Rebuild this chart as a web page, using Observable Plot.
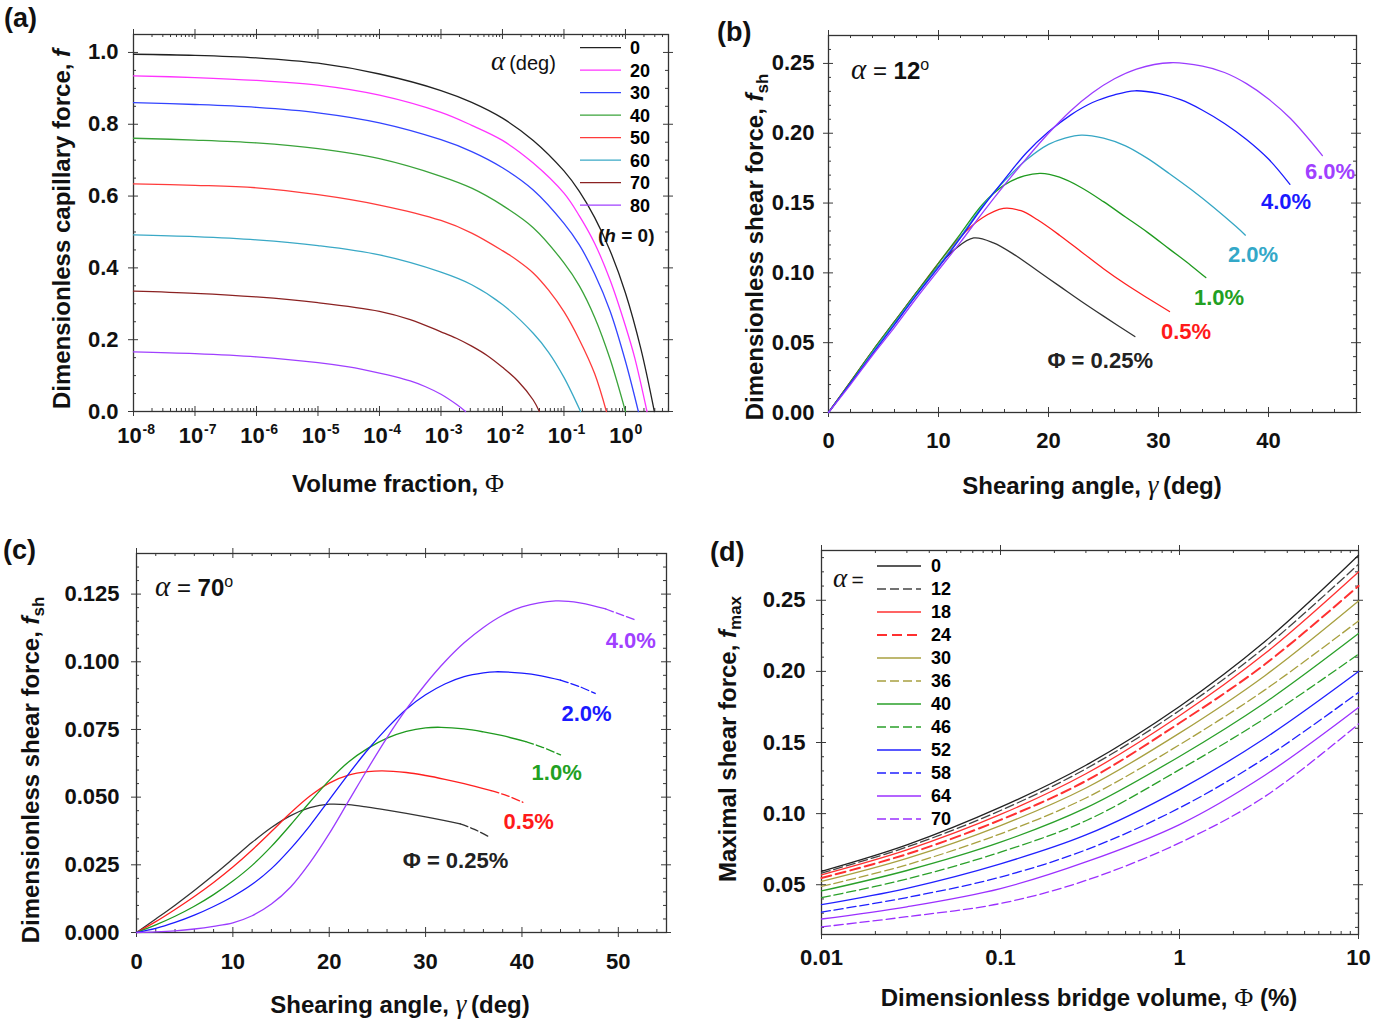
<!DOCTYPE html>
<html><head><meta charset="utf-8">
<script src="https://cdn.jsdelivr.net/npm/d3@7"></script>
<script src="https://cdn.jsdelivr.net/npm/@observablehq/plot@0.6"></script>
<style>
body{margin:0;background:#fff;}
#fig{position:relative;width:1387px;height:1021px;background:#fff;font-family:"Liberation Sans",Arial,sans-serif;font-weight:bold;color:#111;overflow:hidden}
.pn{position:absolute}
.t{position:absolute;white-space:nowrap;font-weight:bold;line-height:1;}
.gr{font-family:"Liberation Serif","Times New Roman",serif;font-style:italic;font-weight:normal}
.it{font-style:italic}
</style></head><body><div id="fig"></div><script>
// ---------- Panel (a): f vs volume fraction (log10 Φ, f) ----------
const aAlphas=[0,20,30,40,50,60,70,80];
const aColors=["#222222","#ff33ff","#3344ff","#3aa33a","#ff3b3b","#3aa9c6","#8b2222","#a040ff"];
const a0=[[-8,.995],[-7,.992],[-6,.985],[-5,.97],[-4,.94],[-3,.894],[-2.5,.861],[-2,.817],[-1.5,.755],[-1,.67],[-0.75,.613],[-0.5,.54],[-0.25,.448],[0,.33],[0.25,.175],[0.47,0]];
const a20=[[-8,.935],[-7,.93],[-6,.922],[-5,.909],[-4,.881],[-3,.833],[-2.5,.797],[-2,.755],[-1.5,.692],[-1,.608],[-0.75,.545],[-0.5,.468],[-0.25,.366],[0,.238],[0.15,.15],[0.35,0]];
const a30=[[-8,.86],[-7,.855],[-6,.847],[-5,.832],[-4,.804],[-3,.757],[-2.5,.724],[-2,.679],[-1.5,.617],[-1,.524],[-0.75,.464],[-0.5,.383],[-0.25,.28],[0,.14],[0.21,0]];
const a40=[[-8,.761],[-7,.756],[-6,.748],[-5,.732],[-4,.704],[-3,.655],[-2.5,.622],[-2,.574],[-1.5,.512],[-1,.414],[-0.75,.35],[-0.5,.262],[-0.25,.146],[0,0]];
const a50=[[-8,.634],[-7,.63],[-6,.623],[-5,.604],[-4,.575],[-3,.532],[-2.5,.497],[-2,.448],[-1.75,.42],[-1.5,.386],[-1.25,.338],[-1,.278],[-0.75,.2],[-0.5,.105],[-0.31,0]];
const a60=[[-8,.492],[-7,.487],[-6,.478],[-5,.462],[-4,.436],[-3,.388],[-2.5,.353],[-2,.298],[-1.5,.218],[-1.25,.165],[-1,.095],[-0.73,0]];
const a70=[[-8,.335],[-7,.329],[-6,.319],[-5,.303],[-4,.279],[-3.5,.256],[-3,.222],[-2.75,.204],[-2.5,.182],[-2.25,.156],[-2,.123],[-1.75,.085],[-1.5,.032],[-1.4,0]];
const a80=[[-8,.166],[-7,.161],[-6,.152],[-5,.136],[-4.5,.124],[-4,.107],[-3.75,.097],[-3.5,.085],[-3.25,.069],[-3,.048],[-2.75,.02],[-2.6,0]];
const aCurves=[a0,a20,a30,a40,a50,a60,a70,a80];
const aXTicks=[1e-8,1e-7,1e-6,1e-5,1e-4,1e-3,1e-2,1e-1,1];
const aYTicks=[0,0.2,0.4,0.6,0.8,1.0];

// ---------- Panel (b): α = 12°, (γ, f_sh) ----------
const bLabels=["Φ = 0.25%","0.5%","1.0%","2.0%","4.0%","6.0%"];
const bColors=["#333333","#ff2020","#1f9a1f","#35a6c4","#1a1aff","#9b3cff"];
const bLabelColors=["#222222","#ff1a1a","#22a022","#33a8c8","#1a1aff","#a040ff"];
const b025=[[0,0],[2,.022],[4,.044],[6,.065],[8,.086],[10,.105],[11.5,.117],[13.2,.125],[15,.1215],[17,.1125],[19,.1015],[21,.0905],[23,.0795],[25,.069],[27.85,.0544]];
const b05=[[0,0],[2,.022],[4,.044],[6,.065],[8,.086],[10,.107],[12,.126],[14,.1395],[15.9,.1462],[17.5,.1445],[19,.138],[21,.127],[23,.115],[25,.103],[27,.092],[29,.082],[31,.0723]];
const b1=[[0,0],[2,.022],[4,.044],[6,.065],[8,.086],[10,.107],[12,.128],[14,.149],[16,.163],[17.8,.1695],[19.3,.1713],[21,.1685],[23,.161],[25,.151],[27,.14],[29,.129],[31,.117],[33,.105],[34.3,.0966]];
const b2=[[0,0],[2,.021],[4,.043],[6,.064],[8,.085],[10,.105],[12,.126],[14,.148],[16,.166],[18,.181],[20,.192],[21.5,.1965],[23,.1987],[25,.1965],[27,.191],[29,.182],[31,.171],[33,.1595],[35,.147],[37,.1335],[37.9,.127]];
const b4=[[0,0],[2,.021],[4,.042],[6,.063],[8,.084],[10,.104],[12,.125],[14,.147],[16,.167],[18,.186],[20,.201],[22,.213],[24,.222],[26,.2275],[27.85,.2304],[30,.2285],[32,.224],[34,.2165],[36,.207],[38,.1955],[40,.1815],[41.95,.1634]];
const b6=[[0,0],[2,.02],[4,.041],[6,.061],[8,.082],[10,.102],[12,.122],[14,.143],[16,.163],[18,.182],[20,.2],[22,.216],[24,.229],[26,.239],[28,.246],[31.1,.2505],[34,.248],[36,.2435],[38,.2355],[40,.2245],[42,.2105],[44.9,.184]];
const bCurves=[b025,b05,b1,b2,b4,b6];
const bLabelPos=[[24.7,.0372],[32.5,.058],[35.5,.0817],[38.6,.113],[41.6,.151],[45.6,.1726]];

// ---------- Panel (c): α = 70°, (γ, f_sh), dashed tails ----------
const cLabels=["Φ = 0.25%","0.5%","1.0%","2.0%","4.0%"];
const cColors=["#333333","#ff2020","#1f9a1f","#1a1aff","#9b3cff"];
const cLabelColors=["#222222","#ff1a1a","#22a022","#1a1aff","#a040ff"];
const c025=[[0,0],[2,.005],[4,.0101],[6,.0155],[8,.0212],[10,.0272],[12,.0333],[14,.0388],[16,.0432],[18,.0461],[20,.0474],[22,.0472],[24,.0463],[26,.0452],[28,.044],[30,.0427],[32,.0413],[33.6,.0401],[35,.0382],[36.5,.0355]];
const c05=[[0,0],[2,.004],[4,.0085],[6,.0133],[8,.0185],[10,.0242],[12,.0305],[14,.0373],[16,.0442],[18,.0504],[20,.0552],[22,.0581],[24,.0594],[25.5,.0597],[28,.0591],[30,.058],[32,.0566],[34,.055],[36.8,.0524],[38.5,.0505],[40.1,.0481]];
const c1=[[0,0],[2,.0028],[4,.006],[6,.0097],[8,.014],[10,.019],[12,.0248],[14,.0318],[16,.0398],[18,.0482],[20,.0562],[22,.063],[24,.068],[26,.0718],[28,.0743],[30,.0756],[31.6,.0758],[34,.0752],[36,.0741],[38,.0727],[40.4,.0705],[42,.0686],[44,.0656]];
const c2=[[0,0],[2,.0015],[4,.0037],[6,.0064],[8,.0096],[10,.0133],[12,.0178],[14,.0236],[16,.031],[18,.0395],[20,.049],[22,.0585],[24,.0675],[26,.0755],[28,.0825],[30,.0878],[32,.0918],[34,.0945],[36,.0959],[37.2,.0963],[40,.0958],[42,.0948],[44,.0932],[46,.0908],[47.6,.0883]];
const c4=[[0,0],[2,.0002],[4,.0006],[6,.0013],[8,.0023],[10,.0036],[12,.0062],[14,.0105],[16,.0168],[18,.0258],[20,.0365],[22,.0485],[24,.0605],[26,.072],[28,.0825],[30,.0918],[32,.1],[34,.107],[36,.1127],[38,.1172],[40,.1203],[43.5,.1225],[46,.1218],[48.7,.1195],[50,.1178],[51.8,.1154]];
const cCurves=[c025,c05,c1,c2,c4];
const cDashFrom=[33.6,36.8,40.4,44,48.7];
const cLabelPos=[[33.1,.0266],[40.7,.0407],[43.6,.0588],[46.7,.0806],[51.3,.1076]];

// ---------- Panel (d): f_max vs Φ (%) ----------
const dAlphas=[0,12,18,24,30,36,40,46,52,58,64,70];
const dColors=["#222222","#444444","#ff3030","#ff3030","#a8a040","#a8a040","#2aa02a","#2aa02a","#2020ff","#2020ff","#9b30ff","#9b30ff"];
const dDashed=[false,true,false,true,false,true,false,true,false,true,false,true];
const dPhi=[0.01,0.03,0.1,0.3,1,3,10];
const d0=[.0594,.078,.1045,.134,.1753,.221,.2816];
const d12=[.0582,.0765,.1022,.1315,.1725,.217,.2753];
const d18=[.057,.0745,.0994,.128,.1688,.2125,.2699];
const d24=[.0547,.0715,.0956,.123,.1637,.205,.2601];
const d30=[.0523,.0685,.0916,.118,.1566,.197,.2495];
const d36=[.0488,.064,.0858,.111,.1484,.187,.2355];
const d40=[.0456,.06,.0799,.104,.1402,.178,.2266];
const d46=[.0409,.054,.0729,.095,.1309,.167,.2121];
const d52=[.036,.0475,.0647,.085,.1169,.153,.1999];
const d58=[.0308,.041,.0554,.0745,.104,.139,.1852];
const d64=[.0259,.0345,.0473,.066,.0923,.127,.1746];
const d70=[.0203,.0275,.0368,.053,.0794,.112,.163];
const dCurves=[d0,d12,d18,d24,d30,d36,d40,d46,d52,d58,d64,d70];
const dXTicks=[0.01,0.1,1,10];
const dXTickLabels=["0.01","0.1","1","10"];

// ---------- helpers ----------
const fig=document.getElementById("fig");
function place(el,left,top){const d=document.createElement("div");d.className="pn";d.style.left=left+"px";d.style.top=top+"px";d.appendChild(el);fig.appendChild(d);}
function html(str,css){const d=document.createElement("div");d.className="t";d.innerHTML=str;Object.assign(d.style,css);fig.appendChild(d);return d;}
const FS=22;
const baseStyle={fontFamily:'"Liberation Sans",Arial,sans-serif',fontSize:FS+"px",fontWeight:"bold",background:"transparent",overflow:"visible",color:"#111"};
const TK="#3a3a3a";
const CURVE="catmull-rom";
function frameTicks(xMaj,xMin,yMaj,yMin,H,Wf){
  return [
    Plot.ruleX(xMaj,{x:d=>d,insetTop:H-5,insetBottom:-5,stroke:TK}),
    Plot.ruleX(xMaj,{x:d=>d,insetBottom:H-5,insetTop:-5,stroke:TK}),
    Plot.ruleX(xMin,{x:d=>d,insetTop:H-3,stroke:TK}),
    Plot.ruleX(xMin,{x:d=>d,insetBottom:H-3,stroke:TK}),
    Plot.ruleY(yMaj,{y:d=>d,insetRight:Wf-5,insetLeft:-5,stroke:TK}),
    Plot.ruleY(yMaj,{y:d=>d,insetLeft:Wf-5,insetRight:-5,stroke:TK}),
    Plot.ruleY(yMin,{y:d=>d,insetRight:Wf-3,stroke:TK}),
    Plot.ruleY(yMin,{y:d=>d,insetLeft:Wf-3,stroke:TK}),
    Plot.frame({stroke:"#333",strokeWidth:1.3})
  ];
}
function steps(a,b,s,excl){const r=[];for(let i=Math.round(a/s);i*s<=b+1e-9;i++){const v=+(i*s).toFixed(6);if(!excl.some(e=>Math.abs(e-v)<1e-9))r.push(v);}return r;}
function logMinors(lo,hi){const r=[];for(let e=Math.floor(Math.log10(lo));e<=Math.ceil(Math.log10(hi));e++){for(let m=2;m<=9;m++){const v=m*Math.pow(10,e);if(v>lo&&v<hi)r.push(v);}}return r;}

// ---------- Panel (a) ----------
{
  const W=690,Hh=470,mL=133,mR=22,mT=34,mB=59;const H=Hh-mT-mB,Wf=W-mL-mR;
  const xmax=Math.pow(10,0.7);
  const marks=[...frameTicks(aXTicks,logMinors(1e-8,xmax),aYTicks,steps(0,1.05,0.05,aYTicks),H,Wf)];
  aCurves.forEach((c,i)=>marks.push(Plot.line(c,{x:d=>Math.pow(10,d[0]),y:d=>d[1],stroke:aColors[i],strokeWidth:1.3,curve:CURVE})));
  marks.push(Plot.axisY({ticks:aYTicks,tickSize:0,tickPadding:15,tickFormat:d3.format(".1f"),label:null}));
  marks.push(Plot.text(aXTicks,{x:d=>d,text:()=>"10",frameAnchor:"bottom",dy:31,dx:-4,fontSize:FS}));
  marks.push(Plot.text(aXTicks,{x:d=>d,text:d=>String(Math.round(Math.log10(d))),frameAnchor:"bottom",dy:22,dx:9,textAnchor:"start",fontSize:14}));
  place(Plot.plot({width:W,height:Hh,marginLeft:mL,marginRight:mR,marginTop:mT,marginBottom:mB,style:baseStyle,
    x:{type:"log",domain:[1e-8,xmax],axis:null},y:{domain:[0,1.05],axis:null},marks}),0,0);
}
// ---------- Panel (b) ----------
{
  const W=697,Hh=470,mL=138,mR=31,mT=35,mB=58;const H=Hh-mT-mB,Wf=W-mL-mR;
  const xM=[0,10,20,30,40],yM=[0,0.05,0.1,0.15,0.2,0.25];
  const marks=[...frameTicks(xM,steps(0,48,2,xM),yM,steps(0,0.27,0.01,yM),H,Wf)];
  bCurves.forEach((c,i)=>marks.push(Plot.line(c,{x:d=>d[0],y:d=>d[1],stroke:bColors[i],strokeWidth:1.3,curve:CURVE})));
  marks.push(Plot.axisY({ticks:yM,tickSize:0,tickPadding:14,tickFormat:d3.format(".2f"),label:null}));
  marks.push(Plot.axisX({ticks:xM,tickSize:0,tickPadding:20,tickFormat:d3.format("d"),label:null}));
  marks.push(Plot.text(bLabelPos,{x:d=>d[0],y:d=>d[1],text:(d,i)=>bLabels[i],fill:(d,i)=>bLabelColors[i],fontSize:FS}));
  place(Plot.plot({width:W,height:Hh,marginLeft:mL,marginRight:mR,marginTop:mT,marginBottom:mB,style:baseStyle,
    x:{domain:[0,48]},y:{domain:[0,0.27]},color:{type:"identity"},marks}),690,0);
}
// ---------- Panel (c) ----------
{
  const W=690,Hh=470,mL=136,mR=24,mT=33,mB=58;const H=Hh-mT-mB,Wf=W-mL-mR;
  const xM=[0,10,20,30,40,50],yM=[0,0.025,0.05,0.075,0.1,0.125];
  const marks=[...frameTicks(xM,steps(0,55,2,xM),yM,steps(0,0.14,0.005,yM),H,Wf)];
  cCurves.forEach((c,i)=>{
    marks.push(Plot.line(c.filter(d=>d[0]<=cDashFrom[i]),{x:d=>d[0],y:d=>d[1],stroke:cColors[i],strokeWidth:1.3,curve:CURVE}));
    marks.push(Plot.line(c.filter(d=>d[0]>=cDashFrom[i]),{x:d=>d[0],y:d=>d[1],stroke:cColors[i],strokeWidth:1.3,strokeDasharray:"8,3",curve:CURVE}));
  });
  marks.push(Plot.axisY({ticks:yM,tickSize:0,tickPadding:17,tickFormat:d3.format(".3f"),label:null}));
  marks.push(Plot.axisX({ticks:xM,tickSize:0,tickPadding:21,tickFormat:d3.format("d"),label:null}));
  marks.push(Plot.text(cLabelPos,{x:d=>d[0],y:d=>d[1],text:(d,i)=>cLabels[i],fill:(d,i)=>cLabelColors[i],fontSize:FS}));
  place(Plot.plot({width:W,height:Hh,marginLeft:mL,marginRight:mR,marginTop:mT,marginBottom:mB,style:baseStyle,
    x:{domain:[0,55]},y:{domain:[0,0.14]},color:{type:"identity"},marks}),0,520);
}
// ---------- Panel (d) ----------
{
  const W=697,Hh=470,mL=131,mR=29,mT=30,mB=56;const H=Hh-mT-mB,Wf=W-mL-mR;
  const yM=[0.05,0.1,0.15,0.2,0.25];
  const marks=[...frameTicks(dXTicks,logMinors(0.01,10),yM,steps(0.02,0.28,0.01,yM),H,Wf)];
  dCurves.forEach((c,i)=>marks.push(Plot.line(c.map((v,j)=>[dPhi[j],v]),{x:d=>d[0],y:d=>d[1],stroke:dColors[i],
    strokeWidth:i===3?2:1.3,strokeDasharray:dDashed[i]?(i===3?"10,5":"9,4"):null,curve:CURVE})));
  marks.push(Plot.axisY({ticks:yM,tickSize:0,tickPadding:16,tickFormat:d3.format(".2f"),label:null}));
  marks.push(Plot.text(dXTicks,{x:d=>d,text:d=>dXTickLabels[dXTicks.indexOf(d)],frameAnchor:"bottom",dy:30,fontSize:FS}));
  place(Plot.plot({width:W,height:Hh,marginLeft:mL,marginRight:mR,marginTop:mT,marginBottom:mB,style:baseStyle,
    x:{type:"log",domain:[0.01,10],axis:null},y:{domain:[0.015,0.285]},marks}),690,520);
}

// ---------- legends (overlay) ----------
{
  const svg=d3.create("svg").attr("width",1387).attr("height",1021).style("position","absolute").style("left","0").style("top","0")
    .style("font-family",'"Liberation Sans",Arial,sans-serif').style("font-weight","bold");
  aAlphas.forEach((a,i)=>{const y=47.7+i*22.5;
    svg.append("line").attr("x1",580).attr("x2",621).attr("y1",y).attr("y2",y).attr("stroke",aColors[i]).attr("stroke-width",1.3);
    svg.append("text").attr("x",630).attr("y",y).attr("dy","0.35em").attr("font-size",18).text(a);});
  dAlphas.forEach((a,i)=>{const y=566+i*23.0;
    svg.append("line").attr("x1",877).attr("x2",921).attr("y1",y).attr("y2",y).attr("stroke",dColors[i])
      .attr("stroke-width",i===3?2:1.3).attr("stroke-dasharray",dDashed[i]?(i===3?"10,5":"9,4"):null);
    svg.append("text").attr("x",931).attr("y",y).attr("dy","0.35em").attr("font-size",18).text(a);});
  fig.appendChild(svg.node());
}

// ---------- titles & annotations ----------
const TS={fontSize:"24px"};
html('(a)',{left:"4px",top:"5px",fontSize:"27px"});
html('(b)',{left:"717px",top:"19px",fontSize:"27px"});
html('(c)',{left:"3px",top:"537px",fontSize:"27px"});
html('(d)',{left:"710px",top:"539px",fontSize:"27px"});
function xTitle(s,cx,cy){html(s,Object.assign({left:cx+"px",top:cy+"px",transform:"translate(-50%,-50%)"},TS));}
function yTitle(s,cx,cy){html(s,Object.assign({left:cx+"px",top:cy+"px",transform:"translate(-50%,-50%) rotate(-90deg)"},TS));}
xTitle('Volume fraction, <span class="gr" style="font-style:normal;font-size:26px">Φ</span>',398,484);
yTitle('Dimensionless capillary force, <span class="it">f</span>',62,229);
xTitle('Shearing angle, <span class="gr" style="font-size:27px">γ</span>&thinsp;(deg)',1092,485);
yTitle('Dimensionless shear force, <span class="it">f</span><sub style="font-size:17px">sh</sub>',757,247);
xTitle('Shearing angle, <span class="gr" style="font-size:27px">γ</span>&thinsp;(deg)',400,1004);
yTitle('Dimensionless shear force, <span class="it">f</span><sub style="font-size:17px">sh</sub>',33,770);
xTitle('Dimensionless bridge volume, <span class="gr" style="font-style:normal;font-size:26px">Φ</span> (%)',1089,998);
yTitle('Maximal shear force, <span class="it">f</span><sub style="font-size:17px">max</sub>',730,739);
html('<span class="gr" style="font-size:27px">α</span>&thinsp;(deg)',{left:"491px",top:"48px",fontSize:"20px",fontWeight:"normal"});
html('(<span class="it">h</span> = 0)',{left:"598px",top:"226px",fontSize:"19px"});
html('<span class="gr" style="font-size:27px">α</span><span style="font-weight:normal">&thinsp;=</span>',{left:"833px",top:"565px",fontSize:"21px"});
html('<span class="gr" style="font-size:29px">α</span><span style="font-weight:normal"> = </span>12<sup style="font-size:16px;font-weight:normal">o</sup>',{left:"851px",top:"55px",fontSize:"24px"});
html('<span class="gr" style="font-size:29px">α</span><span style="font-weight:normal"> = </span>70<sup style="font-size:16px;font-weight:normal">o</sup>',{left:"155px",top:"572px",fontSize:"24px"});
</script></body></html>
